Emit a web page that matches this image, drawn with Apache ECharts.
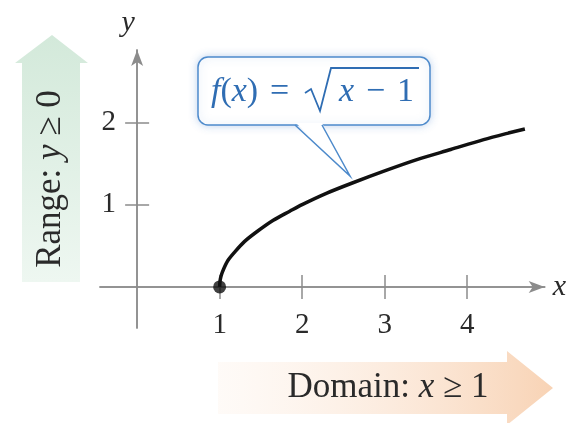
<!DOCTYPE html>
<html>
<head>
<meta charset="utf-8">
<script src="https://cdn.jsdelivr.net/npm/echarts@6/dist/echarts.min.js"></script>
<style>
  html, body { margin: 0; padding: 0; background: #fff; }
  #chart { width: 569px; height: 423px; }
</style>
</head>
<body>
<div id="chart"></div>
<script>
// values: f(x) = sqrt(x - 1)
var curveX = [1, 1.005, 1.02, 1.05, 1.1, 1.18, 1.3, 1.45, 1.65, 1.85, 2, 2.3, 2.6, 3, 3.4, 3.8, 4.2, 4.5, 4.7];
var curveY = [0, 0.07, 0.14, 0.22, 0.32, 0.42, 0.55, 0.67, 0.81, 0.92, 1.0, 1.14, 1.26, 1.41, 1.55, 1.67, 1.79, 1.87, 1.92];
var startPoint = [1, 0];
var xTicks = [1, 2, 3, 4];
var yTicks = [1, 2];

var SERIF = '"Liberation Serif", "DejaVu Serif", serif';
var AXIS_COLOR = '#8c8c8c';
var BLUE = '#2f6db3';
var INK = '#2a2a2a';

var curveData = [];
for (var i = 0; i < curveX.length; i++) {
    curveData.push([curveX[i], curveY[i]]);
}

function axisBase(ticks, inside) {
    return {
        type: 'value',
        axisLine: {
            show: true,
            onZero: true,
            lineStyle: { color: AXIS_COLOR, width: 1.5 }
        },
        axisTick: {
            show: true,
            inside: inside,
            length: 12,
            customValues: ticks,
            lineStyle: { color: AXIS_COLOR, width: 1.5 }
        },
        splitLine: { show: false }
    };
}

var xMain = axisBase(xTicks, false);
xMain.min = -0.45;
xMain.max = 4.94;
xMain.axisLine.symbol = ['none', 'arrow'];
xMain.axisLine.symbolSize = [9, 16];
xMain.name = 'x';
xMain.nameGap = 8;
xMain.nameTextStyle = { fontFamily: SERIF, fontStyle: 'italic', fontSize: 30, color: INK };
xMain.axisLabel = {
    customValues: xTicks, margin: -17,
    fontFamily: SERIF, fontSize: 29, color: INK
};

var xInner = axisBase(xTicks, true);
xInner.min = -0.45;
xInner.max = 4.94;
xInner.position = 'bottom';
xInner.axisLabel = { show: false };

var yMain = axisBase(yTicks, false);
yMain.min = -0.5;
yMain.max = 2.88;
yMain.axisLine.symbol = ['none', 'arrow'];
yMain.axisLine.symbolSize = [9, 16];
yMain.name = 'y';
yMain.nameGap = 12;
yMain.nameTextStyle = { fontFamily: SERIF, fontStyle: 'italic', fontSize: 30, color: INK, padding: [0, 18, 0, 0] };
yMain.axisLabel = {
    customValues: yTicks, margin: -16,
    fontFamily: SERIF, fontSize: 29, color: INK
};

var yInner = axisBase(yTicks, true);
yInner.min = -0.5;
yInner.max = 2.88;
yInner.position = 'left';
yInner.axisLabel = { show: false };

var rangeFill = new echarts.graphic.LinearGradient(0, 0, 0, 1, [
    { offset: 0, color: '#d3e9da' },
    { offset: 1, color: '#eef7f1' }
]);
var domainFill = new echarts.graphic.LinearGradient(0, 0, 1, 0, [
    { offset: 0, color: 'rgba(253,240,230,0.3)' },
    { offset: 1, color: '#f8d3b5' }
]);

function formulaText(str, x, italic) {
    return {
        type: 'text',
        x: x, y: 92,
        style: {
            text: str,
            verticalAlign: 'middle',
            fontFamily: SERIF,
            fontSize: 34,
            fontStyle: italic ? 'italic' : 'normal',
            fill: BLUE
        },
        z: 7
    };
}

var option = {
    animation: false,
    backgroundColor: '#fff',
    grid: { left: 100, right: 24, top: 50, bottom: 95 },
    xAxis: [xMain, xInner],
    yAxis: [yMain, yInner],
    series: [
        {
            type: 'line',
            data: curveData,
            showSymbol: false,
            smooth: 0.3,
            lineStyle: { color: '#111', width: 3.5 },
            z: 3
        },
        {
            type: 'scatter',
            data: [startPoint],
            symbolSize: 13,
            itemStyle: { color: '#111' },
            z: 4
        }
    ],
    graphic: [
        // Range arrow
        {
            type: 'polygon',
            shape: { points: [[22, 282], [22, 63], [15, 63], [52, 35], [88, 63], [80, 63], [80, 282]] },
            style: { fill: rangeFill },
            z: 0
        },
        {
            type: 'text',
            x: 51, y: 179,
            rotation: Math.PI / 2,
            style: {
                text: 'Range: {i|y} ≥ 0',
                align: 'center', verticalAlign: 'middle',
                fontFamily: SERIF, fontSize: 35,
                fill: INK,
                rich: { i: { fontStyle: 'italic', fontFamily: SERIF, fontSize: 35, fill: INK } }
            },
            z: 1
        },
        // Domain arrow
        {
            type: 'polygon',
            shape: { points: [[218, 362], [507, 362], [507, 351], [553, 388], [507, 425], [507, 414], [218, 414]] },
            style: { fill: domainFill },
            z: 0
        },
        {
            type: 'text',
            x: 388, y: 388,
            style: {
                text: 'Domain: {i|x} ≥ 1',
                align: 'center', verticalAlign: 'middle',
                fontFamily: SERIF, fontSize: 35,
                fill: INK,
                rich: { i: { fontStyle: 'italic', fontFamily: SERIF, fontSize: 35, fill: INK } }
            },
            z: 1
        },
        // Callout
        {
            type: 'rect',
            shape: { x: 198, y: 57, width: 232, height: 68, r: 10 },
            style: {
                fill: '#fff', stroke: '#4d8acb', lineWidth: 1.5,
                shadowBlur: 8, shadowColor: 'rgba(90,140,210,0.35)'
            },
            z: 5
        },
        {
            type: 'polygon',
            shape: { points: [[296, 123], [350, 176], [322, 123]] },
            style: { fill: '#fff' },
            z: 6
        },
        {
            type: 'polyline',
            shape: { points: [[295, 125], [350, 176], [322, 125]] },
            style: { stroke: '#4d8acb', lineWidth: 1.5, fill: null },
            z: 6
        },
        {
            type: 'text',
            x: 211, y: 92,
            style: {
                text: '{i|f}({i|x})',
                verticalAlign: 'middle',
                fontFamily: SERIF, fontSize: 34,
                fill: BLUE,
                rich: { i: { fontStyle: 'italic', fontFamily: SERIF, fontSize: 34, fill: BLUE } }
            },
            z: 7
        },
        formulaText('=', 270, false),
        {
            type: 'polyline',
            shape: { points: [[305, 93], [311, 89], [320, 111], [331, 68], [419, 68]] },
            style: { stroke: BLUE, lineWidth: 1.8, fill: null },
            z: 7
        },
        formulaText('x', 339, true),
        formulaText('−', 366, false),
        formulaText('1', 397, false)
    ]
};

var chart = echarts.init(document.getElementById('chart'));
chart.setOption(option);
</script>
</body>
</html>
